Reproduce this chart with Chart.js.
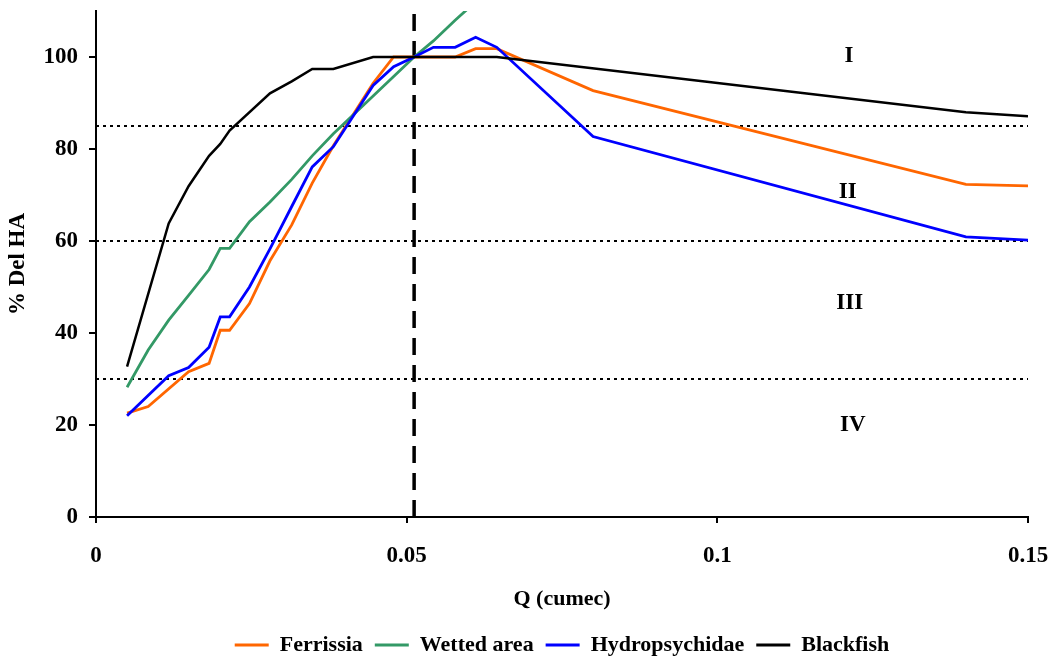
<!DOCTYPE html>
<html>
<head>
<meta charset="utf-8">
<script src="https://cdn.jsdelivr.net/npm/chart.js@4/dist/chart.umd.min.js"></script>
<style>
  html, body { margin: 0; padding: 0; background: #fff; }
  canvas { display: block; }
</style>
</head>
<body>
<canvas id="c" width="1051" height="656"></canvas>
<script>
// ---- Data ----
const seriesNames = ['Ferrissia', 'Wetted area', 'Hydropsychidae', 'Blackfish'];
const seriesColors = ['#FF6600', '#339966', '#0000FF', '#000000'];

const qFerrissia = [0.005, 0.0084, 0.0149, 0.0182, 0.0200, 0.0215, 0.0247, 0.0280, 0.0315, 0.0348, 0.0382, 0.0446, 0.0479, 0.0512, 0.0578, 0.0611, 0.0645, 0.080, 0.140, 0.150];
const yFerrissia = [22.6, 24.0, 31.6, 33.4, 40.6, 40.6, 46.4, 55.7, 63.5, 72.6, 80.7, 94.3, 100, 100, 100, 101.8, 101.8, 92.7, 72.3, 72.0];

const qWetted = [0.005, 0.0084, 0.0117, 0.0149, 0.0182, 0.0200, 0.0215, 0.0247, 0.0280, 0.0315, 0.0348, 0.0382, 0.0446, 0.0512, 0.0543, 0.0578, 0.0611];
const yWetted = [28.2, 36.3, 42.8, 48.2, 53.8, 58.4, 58.4, 64.2, 68.5, 73.4, 78.5, 83.3, 91.5, 100, 103.5, 108.0, 112.0];

const qHydro = [0.005, 0.0117, 0.0149, 0.0182, 0.0200, 0.0215, 0.0247, 0.0280, 0.0315, 0.0348, 0.0382, 0.0446, 0.0479, 0.0512, 0.0543, 0.0578, 0.0611, 0.0645, 0.080, 0.140, 0.150];
const yHydro = [22.0, 30.7, 32.5, 36.9, 43.5, 43.5, 50.0, 58.3, 67.5, 76.1, 80.5, 93.8, 97.9, 100, 102.1, 102.1, 104.3, 102.1, 82.7, 60.9, 60.2];

const qBlackfish = [0.005, 0.0117, 0.0149, 0.0182, 0.0200, 0.0215, 0.0280, 0.0315, 0.0348, 0.0382, 0.0446, 0.0512, 0.0645, 0.140, 0.150];
const yBlackfish = [32.7, 63.8, 71.9, 78.5, 81.1, 84.0, 92.1, 94.7, 97.4, 97.4, 100, 100, 100, 88.0, 87.1];

const refLevels = [85, 60, 30];       // horizontal dotted class boundaries
const refQ = 0.0512;                   // vertical dashed line
const regionNames = ['I', 'II', 'III', 'IV'];
const regionQ = [0.1212, 0.1210, 0.1213, 0.1218];
const regionY = [100.3, 70.6, 46.5, 20.0];

const xTicks = [0, 0.05, 0.1, 0.15];
const yTicks = [0, 20, 40, 60, 80, 100];
const xMin = 0, xMax = 0.15, yMin = 0, yMax = 110;

// ---- Build datasets ----
const pts = (qs, ys) => qs.map((q, i) => ({ x: q, y: ys[i] }));
const seriesQ = [qFerrissia, qWetted, qHydro, qBlackfish];
const seriesY = [yFerrissia, yWetted, yHydro, yBlackfish];
const drawOrder = [3, 2, 1, 0];

const datasets = seriesNames.map((name, i) => ({
  label: name,
  data: pts(seriesQ[i], seriesY[i]),
  borderColor: seriesColors[i],
  backgroundColor: seriesColors[i],
  borderWidth: i === 3 ? 2.5 : 2.8,
  pointRadius: 0,
  tension: 0,
  fill: false,
  order: drawOrder[i]
}));

refLevels.forEach(v => datasets.push({
  label: '_ref',
  data: [{ x: xMin, y: v }, { x: xMax, y: v }],
  borderColor: '#000',
  borderWidth: 1.8,
  borderDash: [3, 4],
  pointRadius: 0,
  order: 10
}));
datasets.push({
  label: '_ref',
  data: [{ x: refQ, y: yMin }, { x: refQ, y: yMax }],
  borderColor: '#000',
  borderWidth: 3.5,
  borderDash: [17, 10],
  pointRadius: 0,
  order: 9
});

const FONT = "'Liberation Serif', 'Times New Roman', serif";

const regionLabelPlugin = {
  id: 'regionLabels',
  afterDatasetsDraw(chart) {
    const { ctx, scales: { x, y } } = chart;
    ctx.save();
    ctx.font = "bold 23px " + FONT;
    ctx.fillStyle = '#000';
    ctx.textAlign = 'center';
    ctx.textBaseline = 'middle';
    regionNames.forEach((t, i) => {
      ctx.fillText(t, x.getPixelForValue(regionQ[i]), y.getPixelForValue(regionY[i]));
    });
    ctx.restore();
  }
};

new Chart(document.getElementById('c'), {
  type: 'line',
  data: { datasets },
  plugins: [regionLabelPlugin],
  options: {
    responsive: false,
    animation: false,
    devicePixelRatio: 1,
    layout: { padding: { left: 0, right: 23, top: 11, bottom: -10 } },
    plugins: {
      tooltip: { enabled: false },
      legend: {
        position: 'bottom',
        fullSize: false,
        labels: {
          filter: item => item.text !== '_ref',
          boxWidth: 34,
          boxHeight: 3,
          padding: 12,
          color: '#000',
          font: { family: FONT, size: 22, weight: 'bold' },
          generateLabels(chart) {
            return chart.data.datasets.map((d, i) => ({
              text: d.label,
              fillStyle: d.borderColor,
              strokeStyle: d.borderColor,
              lineWidth: 0,
              hidden: false,
              datasetIndex: i
            }));
          }
        }
      }
    },
    scales: {
      x: {
        type: 'linear',
        min: xMin,
        max: xMax,
        afterBuildTicks: s => { s.ticks = xTicks.map(v => ({ value: v })); },
        afterFit: s => { s.paddingLeft = 0; s.paddingRight = 0; },
        ticks: {
          color: '#000',
          padding: 19,
          maxRotation: 0,
          font: { family: FONT, size: 23, weight: 'bold' },
          callback: v => String(v)
        },
        grid: { display: true, drawOnChartArea: false, drawTicks: true, tickLength: 6, color: '#000', lineWidth: 2 },
        border: { display: true, color: '#000', width: 2 },
        title: {
          display: true,
          text: 'Q (cumec)',
          color: '#000',
          font: { family: FONT, size: 22, weight: 'bold' },
          padding: { top: -2, bottom: 9 }
        }
      },
      y: {
        type: 'linear',
        min: yMin,
        max: yMax,
        afterBuildTicks: s => { s.ticks = yTicks.map(v => ({ value: v })); },
        afterFit: s => { s.paddingTop = 0; s.paddingBottom = 0; s.width = 96; },
        ticks: {
          color: '#000',
          padding: 11,
          font: { family: FONT, size: 23, weight: 'bold' },
          callback: v => String(v)
        },
        grid: { display: true, drawOnChartArea: false, drawTicks: true, tickLength: 7, color: '#000', lineWidth: 2 },
        border: { display: true, color: '#000', width: 2 },
        title: {
          display: true,
          text: '% Del HA',
          color: '#000',
          font: { family: FONT, size: 23, weight: 'bold' },
          padding: { top: 4, bottom: 12 }
        }
      }
    }
  }
});
</script>
</body>
</html>
